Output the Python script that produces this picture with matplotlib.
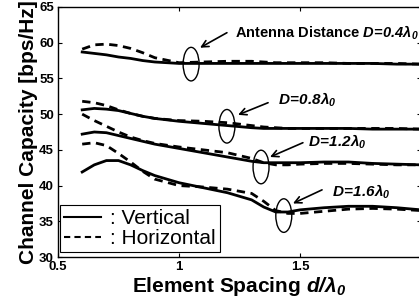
import numpy as np
import matplotlib
matplotlib.use("Agg")
import matplotlib.pyplot as plt
from matplotlib.patches import Ellipse

plt.rcParams['font.family'] = ['Liberation Sans', 'DejaVu Sans']
plt.rcParams['mathtext.fontset'] = 'custom'
plt.rcParams['mathtext.it'] = 'Liberation Sans:italic:bold'
plt.rcParams['mathtext.rm'] = 'Liberation Sans:italic:bold'
plt.rcParams['mathtext.bf'] = 'Liberation Sans:italic:bold'

# element spacing d/lambda0
spacing = [0.6, 0.65, 0.7, 0.75, 0.8, 0.85, 0.9, 1.0, 1.1, 1.2, 1.3,
           1.35, 1.4, 1.45, 1.5, 1.6, 1.7, 1.8, 1.9, 2.0]

# channel capacity [bps/Hz], vertical (solid) / horizontal (dashed)
vert_04 = [58.7, 58.5, 58.3, 58.0, 57.8, 57.5, 57.3, 57.1, 57.1, 57.1, 57.1,
           57.1, 57.1, 57.1, 57.1, 57.1, 57.1, 57.1, 57.0, 57.0]
horz_04 = [59.1, 59.7, 59.8, 59.6, 59.2, 58.6, 57.9, 57.2, 57.3, 57.4, 57.4,
           57.3, 57.2, 57.2, 57.2, 57.2, 57.1, 57.1, 57.1, 57.0]
vert_08 = [50.6, 50.8, 50.7, 50.5, 50.1, 49.7, 49.4, 49.0, 48.7, 48.4, 48.1,
           48.0, 48.0, 48.0, 48.0, 48.0, 48.0, 47.9, 47.9, 47.9]
horz_08 = [51.8, 51.6, 51.2, 50.6, 50.1, 49.7, 49.4, 49.1, 49.0, 48.8, 48.4,
           48.2, 48.1, 48.0, 48.0, 48.0, 48.0, 48.0, 48.0, 47.9]
vert_12 = [47.2, 47.5, 47.4, 47.0, 46.6, 46.2, 45.8, 45.2, 44.6, 44.0, 43.4,
           43.2, 43.2, 43.2, 43.2, 43.3, 43.3, 43.1, 43.0, 42.9]
horz_12 = [50.0, 49.1, 48.3, 47.5, 46.8, 46.3, 45.9, 45.4, 45.0, 44.6, 43.8,
           43.2, 42.9, 42.9, 43.0, 43.1, 43.1, 43.0, 42.9, 42.9]
vert_16 = [41.9, 42.9, 43.5, 43.5, 42.9, 42.1, 41.4, 40.4, 39.7, 39.0, 38.0,
           37.0, 36.3, 36.3, 36.6, 36.9, 37.1, 37.1, 36.9, 36.6]
horz_16 = [45.8, 46.0, 45.6, 44.5, 43.3, 42.0, 40.9, 40.0, 39.8, 39.5, 38.9,
           37.8, 36.5, 36.1, 36.1, 36.4, 36.7, 36.8, 36.7, 36.5]

fig = plt.figure(figsize=(4.19, 3.04), dpi=100)
ax = fig.add_axes([0.1384, 0.1546, 0.8664, 0.8224])

lw = 2.0
for v, h in [(vert_04, horz_04), (vert_08, horz_08), (vert_12, horz_12), (vert_16, horz_16)]:
    ax.plot(spacing, v, color='black', lw=lw)
    ax.plot(spacing, h, color='black', lw=lw, dashes=(3, 2))

# legend proxies
ax.plot([], [], color='black', lw=1.5, label=': Vertical')
ax.plot([], [], color='black', lw=1.5, dashes=(3, 2), label=': Horizontal')
handles, labels = ax.get_legend_handles_labels()
leg = ax.legend(handles, labels, loc='lower left', bbox_to_anchor=(0.005, 0.02),
                borderaxespad=0, fontsize=15, handlelength=1.8, handletextpad=0.4,
                borderpad=0.2, labelspacing=0.05, fancybox=False, framealpha=1,
                edgecolor='black')
leg.get_frame().set_linewidth(0.8)

# ellipses marking the curves
for cx, cy in [(1.05, 57.0), (1.198, 48.3), (1.339, 42.6), (1.433, 35.8)]:
    ax.add_patch(Ellipse((cx, cy), 0.066, 4.7, fill=False, ec='black', lw=1.0))

arrow = dict(arrowstyle='->', color='black', lw=1.2, mutation_scale=12,
             shrinkA=0, shrinkB=0)
ax.annotate('', xy=(1.087, 59.3), xytext=(1.198, 61.4), arrowprops=arrow)
ax.annotate('', xy=(1.244, 49.9), xytext=(1.368, 51.6), arrowprops=arrow)
ax.annotate('', xy=(1.376, 44.0), xytext=(1.512, 46.0), arrowprops=arrow)
ax.annotate('', xy=(1.471, 37.5), xytext=(1.591, 39.4), arrowprops=arrow)

ax.text(1.231, 60.7, r'Antenna Distance $D\!=\!0.4\lambda_0$', fontsize=10.5,
        fontweight='bold', va='baseline', clip_on=False)
ax.text(1.409, 51.3, r'$D\!=\!0.8\lambda_0$', fontsize=11, va='baseline')
ax.text(1.533, 45.4, r'$D\!=\!1.2\lambda_0$', fontsize=11, va='baseline')
ax.text(1.632, 38.5, r'$D\!=\!1.6\lambda_0$', fontsize=11, va='baseline')

ax.set_xlim(0.5, 2.0)
ax.set_ylim(30, 65)
ax.set_xticks([0.5, 1, 1.5, 2])
ax.set_xticklabels(['0.5', '1', '1.5', ''])
ax.set_yticks(range(30, 66, 5))
ax.tick_params(direction='in', top=True, right=True, length=3, width=0.8,
               labelsize=9.5, pad=3)
for lab in ax.get_xticklabels() + ax.get_yticklabels():
    lab.set_fontweight('bold')
for s in ax.spines.values():
    s.set_linewidth(1.0)

ax.set_xlabel(r'Element Spacing $d/\lambda_0$', fontsize=15, fontweight='bold', labelpad=1)
ax.set_ylabel('Channel Capacity [bps/Hz]', fontsize=15, fontweight='bold', labelpad=1)

fig.savefig('out.png', dpi=100)
